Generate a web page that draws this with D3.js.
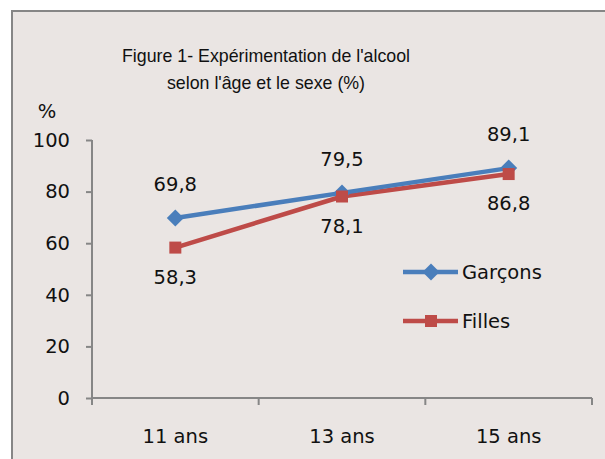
<!DOCTYPE html>
<html>
<head>
<meta charset="utf-8">
<script src="https://cdn.jsdelivr.net/npm/d3@7"></script>
<style>
  html, body { margin: 0; padding: 0; background: #ffffff; }
  svg { display: block; }
  text { font-family: "DejaVu Sans", sans-serif; fill: #111; }
</style>
</head>
<body>
<svg id="chart" width="605" height="459"></svg>
<script>
const categories = ["11 ans", "13 ans", "15 ans"];
const garcons = [69.8, 79.5, 89.1];
const filles = [58.3, 78.1, 86.8];
const garconsLabels = ["69,8", "79,5", "89,1"];
const fillesLabels = ["58,3", "78,1", "86,8"];
const yTicks = [0, 20, 40, 60, 80, 100];
const titleLines = ["Figure 1- Expérimentation de l'alcool", "selon l'âge et le sexe (%)"];
const seriesNames = ["Garçons", "Filles"];

const svg = d3.select("#chart");
const blue = "#4A7EBB", red = "#BE4B48", axisColor = "#868686";
const fs = 19.5;

svg.append("rect").attr("x", 12).attr("y", 11).attr("width", 620).attr("height", 470)
  .attr("fill", "#EAE5E3").attr("stroke", axisColor).attr("stroke-width", 2);

const x = d3.scaleBand().domain(categories).range([92, 592]);
const y = d3.scaleLinear().domain([0, 100]).range([398, 140]);

// title
svg.append("g").selectAll("text").data(titleLines).join("text")
  .attr("x", 266).attr("y", (d, i) => 62 + i * 27)
  .attr("text-anchor", "middle").attr("font-size", 17.8)
  .style("font-family", "'Liberation Sans', sans-serif").text(d => d);

svg.append("text").attr("x", 47).attr("y", 118).attr("text-anchor", "middle")
  .attr("font-size", fs).text("%");

// y axis
const yAxis = svg.append("g").attr("transform", "translate(92,0)")
  .call(d3.axisLeft(y).tickValues(yTicks).tickSize(6).tickPadding(16).tickFormat(d3.format("d")));
yAxis.select(".domain").attr("stroke", axisColor).attr("stroke-width", 2).attr("d", "M0,140V398");
yAxis.selectAll(".tick line").attr("stroke", axisColor).attr("stroke-width", 2);
yAxis.selectAll(".tick text").attr("font-size", fs).attr("fill", "#111").attr("font-family", "DejaVu Sans");

// x axis
const xAxis = svg.append("g").attr("transform", "translate(0,398)")
  .call(d3.axisBottom(x).tickSize(0).tickPadding(31));
xAxis.select(".domain").attr("stroke", axisColor).attr("stroke-width", 2).attr("d", "M92,0H592");
xAxis.selectAll(".tick text").attr("font-size", fs).attr("fill", "#111").attr("font-family", "DejaVu Sans");
const bounds = categories.map(c => x(c)).concat([x.range()[1]]);
svg.append("g").selectAll("line").data(bounds).join("line")
  .attr("x1", d => d).attr("x2", d => d).attr("y1", 398).attr("y2", 405)
  .attr("stroke", axisColor).attr("stroke-width", 2);

const cx = c => x(c) + x.bandwidth() / 2;
const line = d3.line().x((d, i) => cx(categories[i])).y(d => y(d));

svg.append("path").datum(filles).attr("d", line).attr("fill", "none")
  .attr("stroke", red).attr("stroke-width", 4.5).attr("stroke-linejoin", "round");
svg.append("path").datum(garcons).attr("d", line).attr("fill", "none")
  .attr("stroke", blue).attr("stroke-width", 4.5).attr("stroke-linejoin", "round");

const diamond = (cxv, cyv, r) => `M${cxv},${cyv - r}L${cxv + r},${cyv}L${cxv},${cyv + r}L${cxv - r},${cyv}Z`;

svg.append("g").selectAll("path").data(garcons).join("path")
  .attr("d", (d, i) => diamond(cx(categories[i]), y(d), 8.5)).attr("fill", blue);
svg.append("g").selectAll("rect").data(filles).join("rect")
  .attr("x", (d, i) => cx(categories[i]) - 6).attr("y", d => y(d) - 6)
  .attr("width", 12).attr("height", 12).attr("fill", red);

// data labels
svg.append("g").selectAll("text").data(garcons).join("text")
  .attr("x", (d, i) => cx(categories[i])).attr("y", d => y(d) - 27)
  .attr("text-anchor", "middle").attr("font-size", fs).text((d, i) => garconsLabels[i]);
svg.append("g").selectAll("text").data(filles).join("text")
  .attr("x", (d, i) => cx(categories[i])).attr("y", d => y(d) + 36)
  .attr("text-anchor", "middle").attr("font-size", fs).text((d, i) => fillesLabels[i]);

// legend
const legendY = [272, 321];
const legendColors = [blue, red];
const lg = svg.append("g");
seriesNames.forEach((name, i) => {
  lg.append("line").attr("x1", 403).attr("x2", 458).attr("y1", legendY[i]).attr("y2", legendY[i])
    .attr("stroke", legendColors[i]).attr("stroke-width", 4.5);
  if (i === 0) lg.append("path").attr("d", diamond(431, legendY[i], 8.5)).attr("fill", blue);
  else lg.append("rect").attr("x", 425).attr("y", legendY[i] - 6).attr("width", 12).attr("height", 12).attr("fill", red);
  lg.append("text").attr("x", 462).attr("y", legendY[i] + 7).attr("font-size", fs).text(name);
});
</script>
</body>
</html>
